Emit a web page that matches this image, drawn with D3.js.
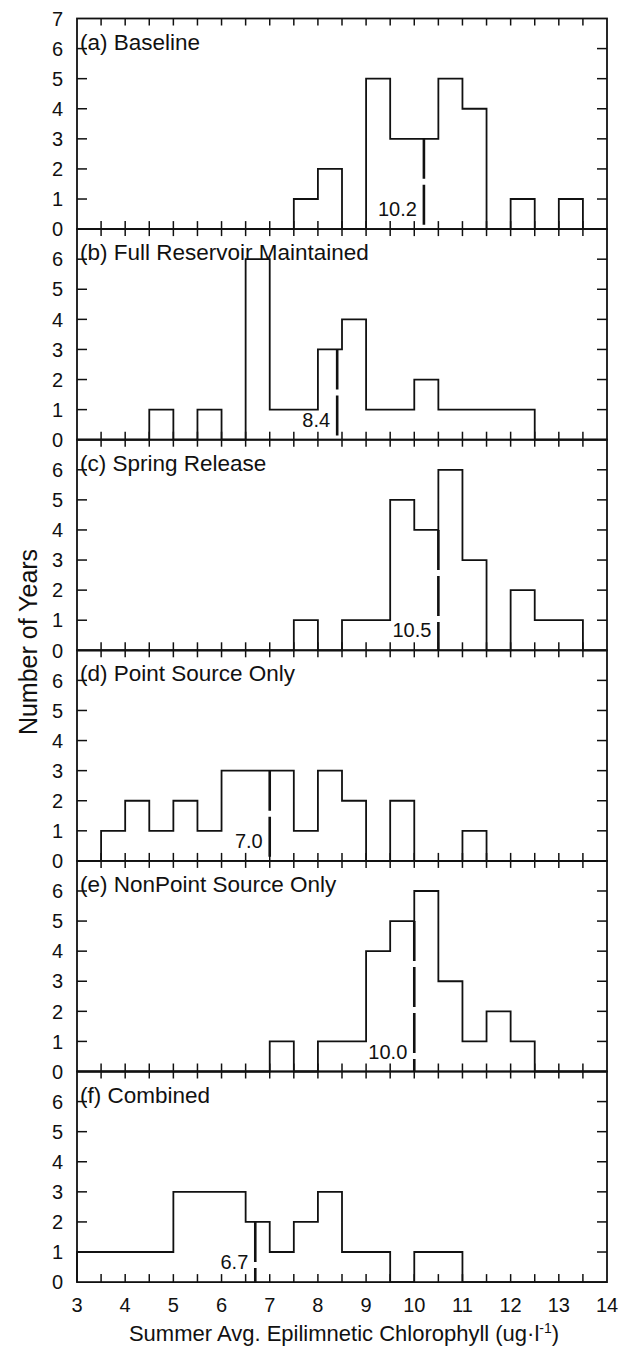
<!DOCTYPE html>
<html>
<head>
<meta charset="utf-8">
<script src="https://cdn.jsdelivr.net/npm/d3@7"></script>
<style>
  html, body { margin: 0; padding: 0; background: #fff; }
  svg { display: block; }
  text { font-family: "Liberation Sans", Arial, Helvetica, sans-serif; fill: #111; }
</style>
</head>
<body>
<svg id="chart"></svg>
<script>
// ── Data ─────────────────────────────────────────────────────────────────────
// Counts per 0.5 ug/l bin, 3.0–3.5 ... 13.5–14.0 (22 bins)
const panelLabels = ['(a) Baseline', '(b) Full Reservoir Maintained', '(c) Spring Release',
                     '(d) Point Source Only', '(e) NonPoint Source Only', '(f) Combined'];
const countsA = [0,0,0,0,0,0,0,0,0,1,2,0,5,3,3,5,4,0,1,0,1,0];
const countsB = [0,0,0,1,0,1,0,6,1,1,3,4,1,1,2,1,1,1,1,0,0,0];
const countsC = [0,0,0,0,0,0,0,0,0,1,0,1,1,5,4,6,3,0,2,1,1,0];
const countsD = [0,1,2,1,2,1,3,3,3,1,3,2,0,2,0,0,1,0,0,0,0,0];
const countsE = [0,0,0,0,0,0,0,0,1,0,1,1,4,5,6,3,1,2,1,0,0,0];
const countsF = [1,1,1,1,3,3,3,2,1,2,3,1,1,0,1,1,0,0,0,0,0,0];
const medians = [10.2, 8.4, 10.5, 7.0, 10.0, 6.7];

const binStart = 3, binWidth = 0.5;
const xTicks  = [3, 4, 5, 6, 7, 8, 9, 10, 11, 12, 13, 14];
const yTicks  = [0, 1, 2, 3, 4, 5, 6, 7];

const allCounts = [countsA, countsB, countsC, countsD, countsE, countsF];

// ── Layout ───────────────────────────────────────────────────────────────────
const W = 623, H = 1350;
const mLeft = 77, mRight = 607, mTop = 18.5, panelH = 210.6;

const svg = d3.select('#chart').attr('width', W).attr('height', H);

const x = d3.scaleLinear().domain([3, 14]).range([mLeft, mRight]);
const minorTicks = d3.range(3, 14.001, 0.5);

const stroke = '#111';
const fmt = d3.format('.1f');

allCounts.forEach((counts, p) => {
  const y0 = mTop + p * panelH;
  const y = d3.scaleLinear().domain([0, 7]).range([y0 + panelH, y0]);
  const g = svg.append('g');

  // frame
  g.append('rect')
    .attr('x', mLeft).attr('y', y0)
    .attr('width', mRight - mLeft).attr('height', panelH)
    .attr('fill', 'none').attr('stroke', stroke).attr('stroke-width', 1.8);

  // x ticks, top edge (down) and bottom edge (up)
  g.selectAll('.tb').data(minorTicks.slice(1, -1)).join('line')
    .attr('x1', d => x(d)).attr('x2', d => x(d))
    .attr('y1', y(0)).attr('y2', y(0) - 8)
    .attr('stroke', stroke).attr('stroke-width', 1.5);
  g.selectAll('.tt').data(minorTicks.slice(1, -1)).join('line')
    .attr('x1', d => x(d)).attr('x2', d => x(d))
    .attr('y1', y(7)).attr('y2', y(7) + 7)
    .attr('stroke', stroke).attr('stroke-width', 1.5);

  // y ticks on both sides, inward
  const yt = yTicks.slice(1, -1);
  g.selectAll('.yl').data(yt).join('line')
    .attr('x1', mLeft).attr('x2', mLeft + 10)
    .attr('y1', d => y(d)).attr('y2', d => y(d))
    .attr('stroke', stroke).attr('stroke-width', 1.5);
  g.selectAll('.yr').data(yt).join('line')
    .attr('x1', mRight).attr('x2', mRight - 10)
    .attr('y1', d => y(d)).attr('y2', d => y(d))
    .attr('stroke', stroke).attr('stroke-width', 1.5);

  // y labels — top panel keeps the 7
  const labs = p === 0 ? yTicks : yTicks.slice(0, -1);
  g.selectAll('.ylab').data(labs).join('text')
    .attr('x', mLeft - 14).attr('y', d => y(d)).attr('dy', '0.36em')
    .attr('text-anchor', 'end').attr('font-size', 20)
    .text(d => d);

  // step histogram outline
  const pts = [[binStart, 0]];
  counts.forEach((c, i) => pts.push([binStart + i * binWidth, c]));
  pts.push([14, 0]);
  const line = d3.line().x(d => x(d[0])).y(d => y(d[1])).curve(d3.curveStepAfter);
  g.append('path').attr('d', line(pts))
    .attr('fill', 'none').attr('stroke', stroke).attr('stroke-width', 1.8);

  // median dashed line, up to the height of its bin
  const m = medians[p];
  const idx = Math.ceil((m - binStart) / binWidth) - 1;
  g.append('line')
    .attr('x1', x(m)).attr('x2', x(m))
    .attr('y1', y(counts[idx])).attr('y2', y(0))
    .attr('stroke', stroke).attr('stroke-width', 2.6)
    .attr('stroke-dasharray', '40,6');
  g.append('text')
    .attr('x', x(m) - 7).attr('y', y(0) - 13)
    .attr('text-anchor', 'end').attr('font-size', 20)
    .text(fmt(m));

  // panel label
  g.append('text')
    .attr('x', mLeft + 3).attr('y', y(6) + 1)
    .attr('font-size', 22.5)
    .text(panelLabels[p]);
});

// ── Axis labels ──────────────────────────────────────────────────────────────
const yBottom = mTop + 6 * panelH;
svg.selectAll('.xlab').data(xTicks).join('text')
  .attr('x', d => x(d)).attr('y', yBottom + 30)
  .attr('text-anchor', 'middle').attr('font-size', 20)
  .text(d => d);

const xt = svg.append('text')
  .attr('x', 344).attr('y', yBottom + 59)
  .attr('text-anchor', 'middle').attr('font-size', 22);
xt.append('tspan').text('Summer Avg. Epilimnetic Chlorophyll (ug\u00b7l');
xt.append('tspan').attr('dy', -8).attr('font-size', 14).text('-1');
xt.append('tspan').attr('dy', 8).text(')');

svg.append('text')
  .attr('transform', 'translate(37, 642) rotate(-90)')
  .attr('text-anchor', 'middle').attr('font-size', 25)
  .text('Number of Years');
</script>
</body>
</html>
